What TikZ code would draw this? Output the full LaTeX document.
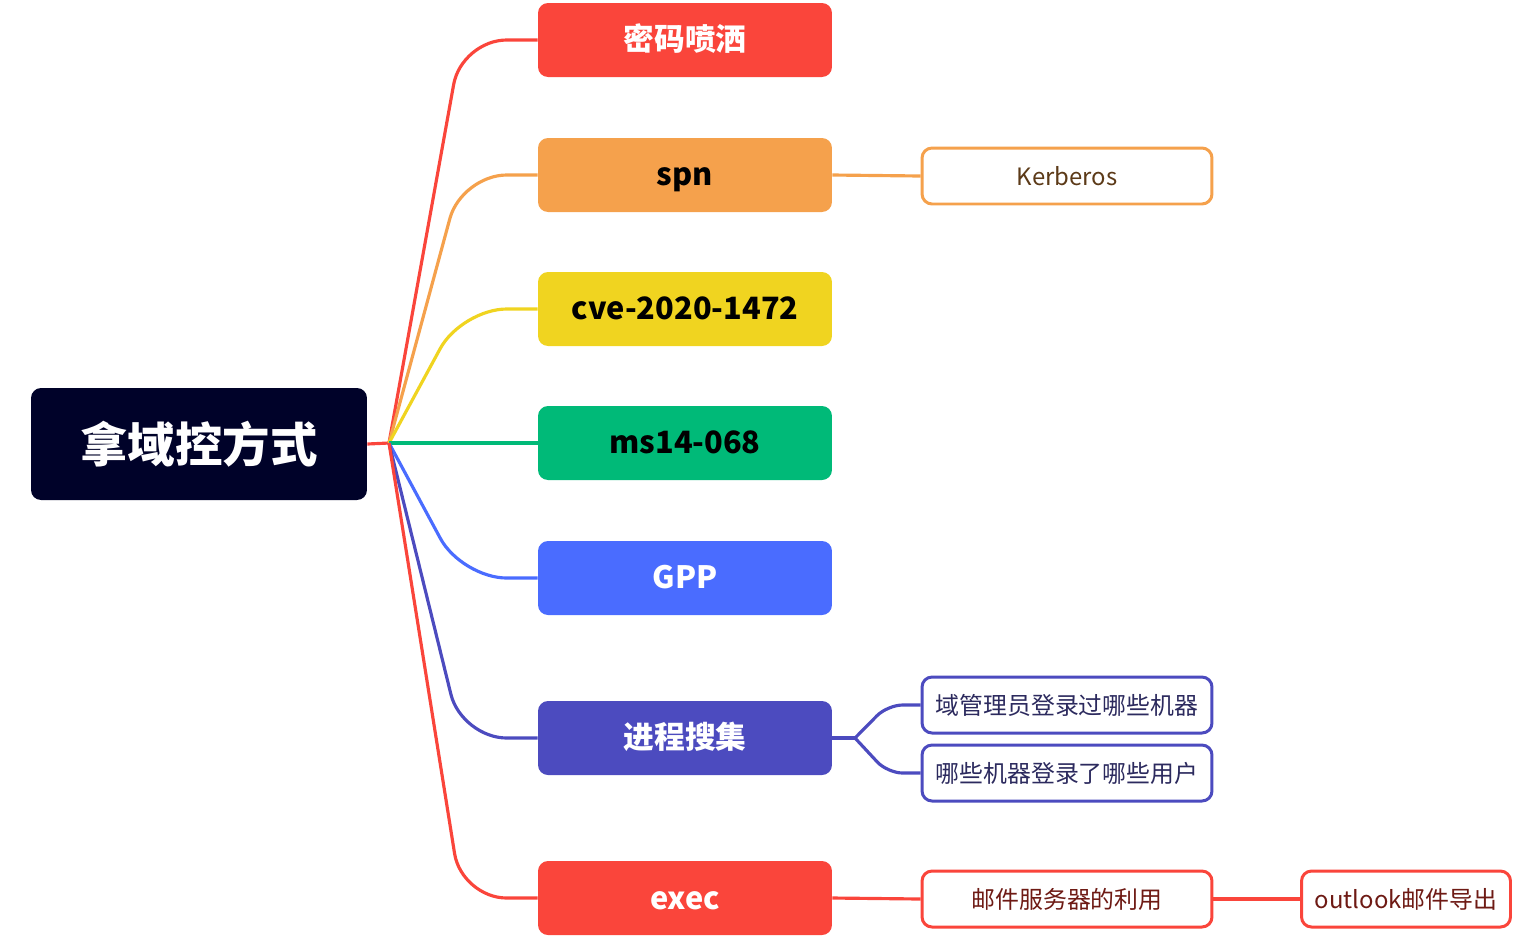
\documentclass[tikz,border=0pt]{standalone}
\usepackage{fontspec}
\setmainfont{Noto Sans CJK SC}
\usetikzlibrary{calc}
\definecolor{cRed}{HTML}{FA453B}
\definecolor{cOrange}{HTML}{F5A14C}
\definecolor{cYellow}{HTML}{F0D420}
\definecolor{cGreen}{HTML}{00BA78}
\definecolor{cBlue}{HTML}{4A6CFF}
\definecolor{cIndigo}{HTML}{4C4BBF}
\definecolor{cNavy}{HTML}{000229}
\definecolor{tBrown}{HTML}{5C3A18}
\definecolor{tMaroon}{HTML}{6E1A14}
\definecolor{tInk}{HTML}{2C2A5E}

\tikzset{
 topic/.style={rounded corners=0.2cm, minimum width=5.88cm, minimum height=1.48cm, inner sep=0pt, font=\fontsize{17.5}{20}\selectfont\bfseries},
 zh/.style={text height=1.35em, text depth=0.2em},
 en/.style={text height=1.45em, text depth=0.2em},
 sub/.style={draw, fill=white, line width=1.7pt, rounded corners=0.2cm, minimum height=1.12cm, inner sep=0pt, font=\fontsize{13.6}{16}\selectfont},
 link/.style={line width=1.8pt, rounded corners=0.9cm},
}

\begin{document}
\begin{tikzpicture}[x=0.02cm, y=-0.02cm]
\useasboundingbox (0,0) rectangle (1530,941);
\node (root) [fill=cNavy, text=white, rounded corners=0.2cm, minimum width=6.72cm, minimum height=2.24cm, inner sep=0pt, font=\fontsize{27}{30}\selectfont\bfseries] at (199,444) {拿域控方式};
\coordinate (hub) at (389,443);

\node (m1) [topic, zh, fill=cRed, text=white] at (685,40) {密码喷洒};
\node (m2) [topic, en, fill=cOrange, text=black] at (685,175) {spn};
\node (m3) [topic, en, fill=cYellow, text=black] at (685,309) {cve-2020-1472};
\node (m4) [topic, en, fill=cGreen, text=black] at (685,443) {ms14-068};
\node (m5) [topic, en, fill=cBlue, text=white] at (685,578) {GPP};
\node (m6) [topic, zh, fill=cIndigo, text=white] at (685,738) {进程搜集};
\node (m7) [topic, en, fill=cRed, text=white] at (685,898) {exec};

\node (kerb) [sub, draw=cOrange, text=tBrown, minimum width=5.8cm] at (1067,176) {Kerberos};
\node (dom) [sub, draw=cIndigo, text=tInk, minimum width=5.8cm] at (1067,705) {域管理员登录过哪些机器};
\node (who) [sub, draw=cIndigo, text=tInk, minimum width=5.8cm] at (1067,773) {哪些机器登录了哪些用户};
\node (mail) [sub, draw=cRed, text=tMaroon, minimum width=5.8cm] at (1067,899) {邮件服务器的利用};
\node (outl) [sub, draw=cRed, text=tMaroon, minimum width=4.18cm] at (1406,899) {outlook邮件导出};

\draw[link, cRed] (root.east) -- (hub);
\draw[link, cRed] (hub) -- ($(m1.west)+(-76,0)$) -- (m1.west);
\draw[link, cOrange] (hub) -- ($(m2.west)+(-76,0)$) -- (m2.west);
\draw[link, cYellow] (hub) -- ($(m3.west)+(-76,0)$) -- (m3.west);
\draw[link, cGreen] (hub) -- (m4.west);
\draw[link, cBlue] (hub) -- ($(m5.west)+(-76,0)$) -- (m5.west);
\draw[link, cIndigo] (hub) -- ($(m6.west)+(-76,0)$) -- (m6.west);
\draw[link, cRed] (hub) -- ($(m7.west)+(-76,0)$) -- (m7.west);

\draw[link, cOrange] (m2.east) -- (kerb.west);
\coordinate (fork) at (855,738);
\draw[link, cIndigo] (m6.east) -- (fork);
\draw[link, cIndigo, rounded corners=0.3cm] (fork) -- ($(dom.west)+(-33,0)$) -- (dom.west);
\draw[link, cIndigo, rounded corners=0.3cm] (fork) -- ($(who.west)+(-33,0)$) -- (who.west);
\draw[link, cRed] (m7.east) -- (mail.west);
\draw[link, cRed] (mail.east) -- (outl.west);
\end{tikzpicture}
\end{document}
